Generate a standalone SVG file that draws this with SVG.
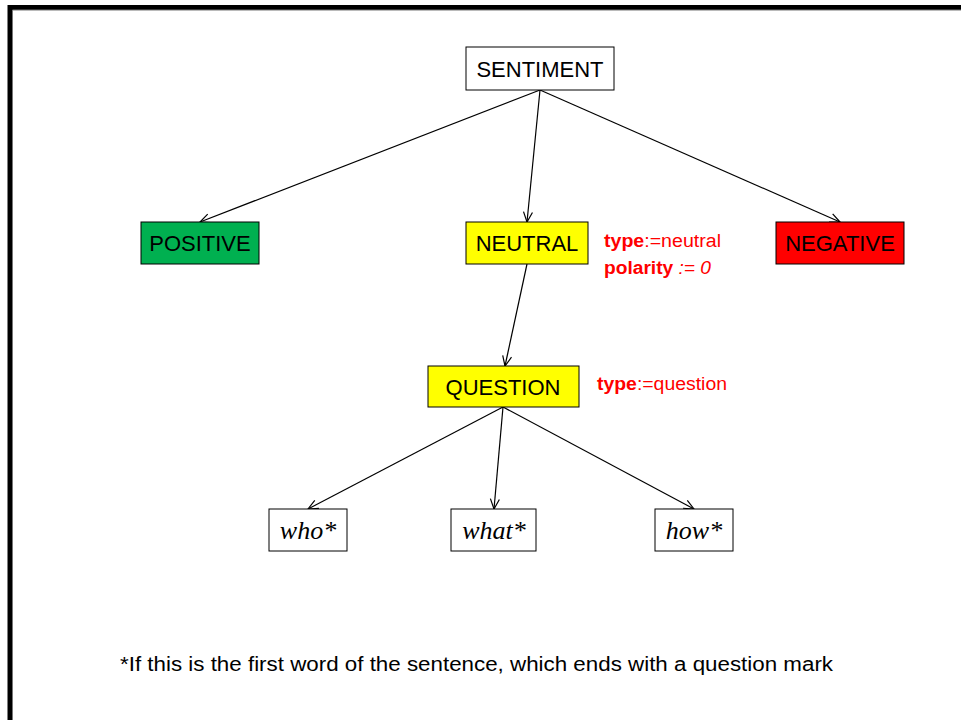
<svg xmlns="http://www.w3.org/2000/svg" width="961" height="720" viewBox="0 0 961 720">
  <defs>
    <marker id="arrow" viewBox="0 0 12 12" refX="11" refY="6" markerWidth="12" markerHeight="12" markerUnits="userSpaceOnUse" orient="auto">
      <path d="M1,1.5 L11,6 L1,10.5" fill="none" stroke="#000" stroke-width="1.2"/>
    </marker>
  </defs>
  <style>
    .box { stroke: #000; stroke-width: 1; }
    .lbl { font-family: "Liberation Sans", Arial, sans-serif; font-size: 22px; fill: #000; text-anchor: middle; }
    .word { font-family: "Liberation Serif", "Times New Roman", serif; font-style: italic; font-size: 26px; fill: #000; text-anchor: middle; }
    .attr { font-family: "Liberation Sans", Arial, sans-serif; font-size: 18px; fill: #FF0000; }
    .note { font-family: "Liberation Sans", Arial, sans-serif; font-size: 20px; fill: #000; }
    .edge { stroke: #000; stroke-width: 1.2; fill: none; marker-end: url(#arrow); }
  </style>
  <rect width="961" height="720" fill="#fff"/>
  <!-- slide frame -->
  <rect x="10" y="7.5" width="960" height="730" fill="none" stroke="#000" stroke-width="5"/>
  <line x1="12.5" y1="10" x2="12.5" y2="720" stroke="#777" stroke-width="1"/>
  <line x1="12.5" y1="10" x2="961" y2="10" stroke="#777" stroke-width="1"/>

  <g id="connectors">
    <line class="edge" x1="540" y1="90" x2="200" y2="222"/>
    <line class="edge" x1="540" y1="90" x2="527" y2="222"/>
    <line class="edge" x1="540" y1="90" x2="840" y2="222"/>
    <line class="edge" x1="527" y1="264" x2="505" y2="366"/>
    <line class="edge" x1="503" y1="407" x2="308" y2="509"/>
    <line class="edge" x1="503" y1="407" x2="494" y2="509"/>
    <line class="edge" x1="503" y1="407" x2="694" y2="509"/>
  </g>

  <g id="sentiment">
    <rect class="box" x="466" y="47" width="148" height="43" fill="#fff"/>
    <text class="lbl" x="540" y="77">SENTIMENT</text>
  </g>
  <g id="positive">
    <rect class="box" x="141" y="222" width="118" height="42" fill="#00B050"/>
    <text class="lbl" x="200" y="251">POSITIVE</text>
  </g>
  <g id="neutral">
    <rect class="box" x="466" y="222" width="122" height="42" fill="#FFFF00"/>
    <text class="lbl" x="527" y="251">NEUTRAL</text>
  </g>
  <g id="neutral-attrs">
    <text class="attr" x="604" y="247" textLength="117" lengthAdjust="spacingAndGlyphs"><tspan font-weight="bold">type</tspan>:=neutral</text>
    <text class="attr" x="604" y="274" textLength="107" lengthAdjust="spacingAndGlyphs"><tspan font-weight="bold">polarity</tspan><tspan font-style="italic"> := 0</tspan></text>
  </g>
  <g id="negative">
    <rect class="box" x="776" y="222" width="128" height="42" fill="#FF0000"/>
    <text class="lbl" x="840" y="251">NEGATIVE</text>
  </g>
  <g id="question">
    <rect class="box" x="428" y="366" width="151" height="41" fill="#FFFF00"/>
    <text class="lbl" x="503" y="395">QUESTION</text>
  </g>
  <g id="question-attrs">
    <text class="attr" x="597" y="390" textLength="130" lengthAdjust="spacingAndGlyphs"><tspan font-weight="bold">type</tspan>:=question</text>
  </g>
  <g id="who">
    <rect class="box" x="269" y="509" width="78" height="42" fill="#fff"/>
    <text class="word" x="308" y="539">who*</text>
  </g>
  <g id="what">
    <rect class="box" x="451" y="509" width="85" height="42" fill="#fff"/>
    <text class="word" x="494" y="539">what*</text>
  </g>
  <g id="how">
    <rect class="box" x="655" y="509" width="78" height="42" fill="#fff"/>
    <text class="word" x="694" y="539">how*</text>
  </g>

  <text class="note" x="120" y="671" textLength="713" lengthAdjust="spacingAndGlyphs">*If this is the first word of the sentence, which ends with a question mark</text>
</svg>
